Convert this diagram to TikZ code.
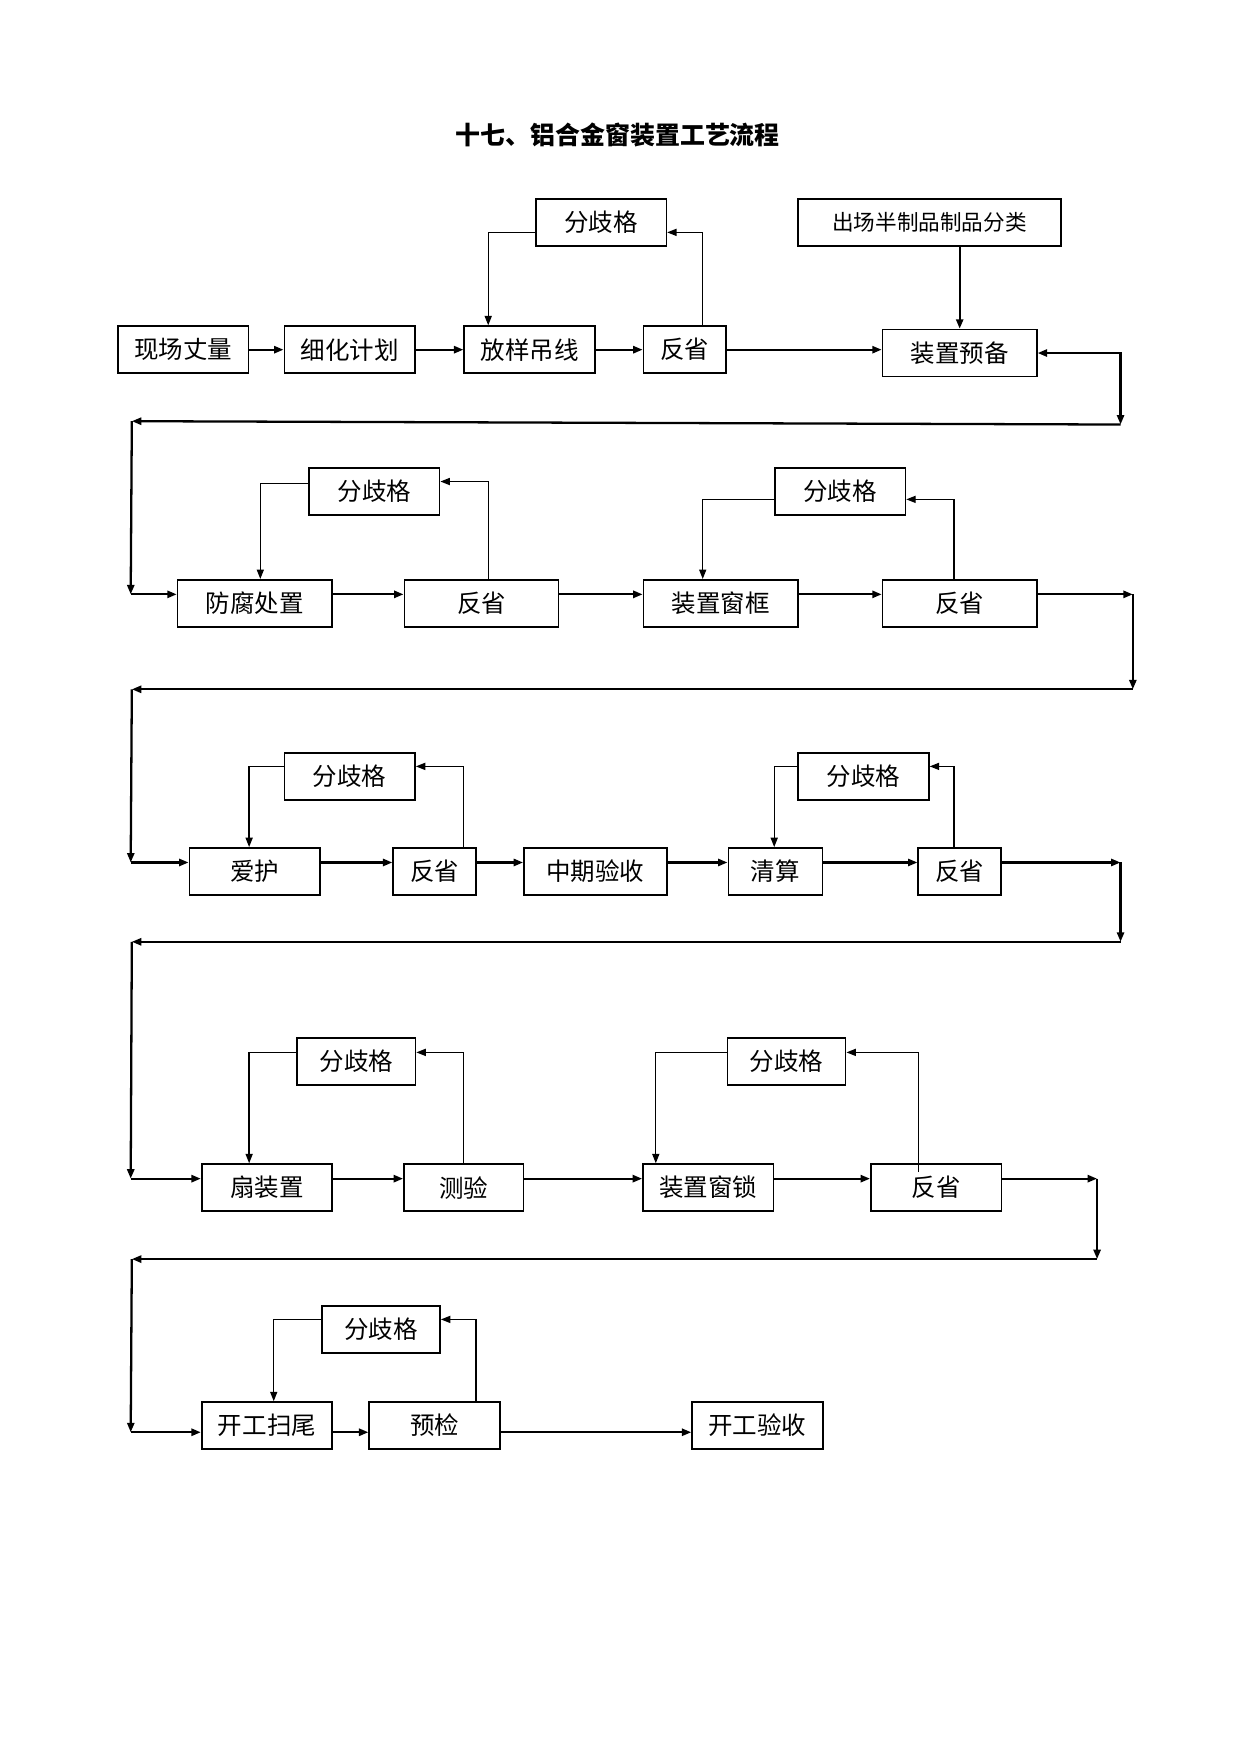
\documentclass[tikz,border=0pt]{standalone}
\usepackage{fontspec}
\newfontfamily\cjk{Noto Sans CJK SC}
\usepackage{tikz}
\usetikzlibrary{calc, positioning, arrows.meta}
\tikzset{
	line width = .8pt,
	>={Triangle[length=1.6mm, width=1.2mm]},
	font = \cjk\fontsize{11.8}{14}\selectfont,
	box/.style={
		draw,
		line width=.8pt,
		minimum width=22.1mm,
		minimum height=7.94mm,
		inner sep=0pt
	},
	edge/.style={
		->,
		line width=1.1pt
	},
	back edge/.style={
		->,
		line width=.65pt
	}
}

\begin{document}
\begin{tikzpicture}[x=0.18902mm, y=-0.18902mm]
		\useasboundingbox (0,0) rectangle (1111,1570);
		\node[font=\cjk\bfseries\fontsize{12}{14}\selectfont] (title) at (553,121) {十七、铝合金窗装置工艺流程};

		% row 1
		\node[box] (xc) at (164,313) {现场丈量};
		\node[box] (xh) at (313,313) {细化计划};
		\node[box] (fy) at (474,313) {放样吊线};
		\node[box, minimum width=14mm] (fx1) at (613,313) {反省};
		\node[box] (fq1) at (538,199) {分歧格};
		\node[box, minimum width=44.4mm, font=\cjk\fontsize{10.4}{12}\selectfont] (cc) at (832,199) {出场半制品制品分类};
		\node[box, minimum width=26.1mm] (zb) at (859,316) {装置预备};

		\draw[edge] (xc) to (xh);
		\draw[edge] (xh) to (fy);
		\draw[edge] (fy) to (fx1);
		\draw[edge] (fx1) to (fx1 -| zb.west);
		\draw[edge] (cc.south -| zb.north) to (zb.north);
		\draw[back edge] ($(fx1.north)+(16,0)$) |- ($(fq1.east)+(0,9)$);
		\draw[back edge] ($(fq1.west)+(0,9)$) -| ($(fy.north)+(-37,0)$);

		\coordinate (r1) at (1003,380);
		\coordinate (l1) at (118,377);
		\coordinate (d1) at (117,532);
		\draw[edge, <->] (zb.east) -| (r1);
		\draw[edge] (r1) to (l1);
		\draw[edge] (l1) to (d1);

		% row 2
		\node[box, minimum width=26.1mm] (ff) at (228,540) {防腐处置};
		\node[box, minimum width=26.1mm] (fx2) at (431,540) {反省};
		\node[box, minimum width=26.1mm] (kk) at (645,540) {装置窗框};
		\node[box, minimum width=26.1mm] (fx3) at (859,540) {反省};
		\node[box] (fq2) at (335,440) {分歧格};
		\node[box] (fq3) at (752,440) {分歧格};

		\coordinate (r2) at (1014,617);
		\coordinate (l2) at (118,617);
		\coordinate (d2) at (117,772);
		\draw[edge] (d1) to (d1 -| ff.west);
		\draw[edge] (ff.east |- d1) to (fx2.west |- d1);
		\draw[edge] (fx2.east |- d1) to (kk.west |- d1);
		\draw[edge] (kk.east |- d1) to (fx3.west |- d1);
		\draw[edge] (fx3.east |- d1) to (r2 |- d1);
		\draw[edge] (r2 |- d1) to (r2);
		\draw[edge] (r2) to (l2);
		\draw[edge] (l2) to (d2);
		\draw[back edge] ($(fx2.north)+(6,0)$) |- ($(fq2.east)+(0,-9)$);
		\draw[back edge] ($(fq2.west)+(0,-7)$) -| ($(ff.north)+(5,0)$);
		\draw[back edge] ($(fx3.north)+(-5,0)$) |- ($(fq3.east)+(0,7)$);
		\draw[back edge] ($(fq3.west)+(0,7)$) -| ($(kk.north)+(-16,0)$);

		% row 3
		\node[box] (ah) at (228,780) {爱护};
		\node[box, minimum width=14mm] (fx4) at (389,780) {反省};
		\node[box, minimum width=24.2mm] (zq) at (533,780) {中期验收};
		\node[box, minimum width=15.9mm] (qs) at (694,780) {清算};
		\node[box, minimum width=14mm] (fx5) at (859,780) {反省};
		\node[box] (fq4) at (313,695) {分歧格};
		\node[box] (fq5) at (773,695) {分歧格};

		\coordinate (r3) at (1003,843);
		\coordinate (l3) at (118,843);
		\coordinate (d3) at (117,1055);
		\draw[edge] (d2) to (d2 -| ah.west);
		\draw[edge] (ah.east |- d2) to (fx4.west |- d2);
		\draw[edge] (fx4.east |- d2) to (zq.west |- d2);
		\draw[edge] (zq.east |- d2) to (qs.west |- d2);
		\draw[edge] (qs.east |- d2) to (fx5.west |- d2);
		\draw[edge] (fx5.east |- d2) to (r3 |- d2);
		\draw[edge] (r3 |- d2) to (r3);
		\draw[edge] (r3) to (l3);
		\draw[edge] (l3) to (d3);
		\draw[back edge] ($(fx4.north)+(26,0)$) |- ($(fq4.east)+(0,-9)$);
		\draw[back edge] ($(fq4.west)+(0,-9)$) -| ($(ah.north)+(-5,0)$);
		\draw[back edge] ($(fx5.north)+(-5,0)$) |- ($(fq5.east)+(0,-9)$);
		\draw[back edge] ($(fq5.west)+(0,-9)$) -| ($(qs.north)+(-1,0)$);

		% row 4
		\node[box] (sz) at (239,1063) {扇装置};
		\node[box, minimum width=20.2mm] (cy) at (415,1063) {测验};
		\node[box] (cs) at (634,1063) {装置窗锁};
		\node[box] (fx6) at (838,1063) {反省};
		\node[box, minimum width=20mm] (fq6) at (319,950) {分歧格};
		\node[box, minimum width=20mm] (fq7) at (704,950) {分歧格};

		\coordinate (r4) at (982,1127);
		\coordinate (l4) at (118,1127);
		\coordinate (d4) at (117,1282);
		\draw[edge] (d3) to (d3 -| sz.west);
		\draw[edge] (sz.east |- d3) to (cy.west |- d3);
		\draw[edge] (cy.east |- d3) to (cs.west |- d3);
		\draw[edge] (cs.east |- d3) to (fx6.west |- d3);
		\draw[edge] (fx6.east |- d3) to (r4 |- d3);
		\draw[edge] (r4 |- d3) to (r4);
		\draw[edge] (r4) to (l4);
		\draw[edge] (l4) to (d4);
		\draw[back edge] (cy.north) |- ($(fq6.east)+(0,-8)$);
		\draw[back edge] ($(fq6.west)+(0,-8)$) -| ($(sz.north)+(-16,0)$);
		\draw[back edge] ($(fx6.north)+(-16,8)$) |- ($(fq7.east)+(0,-8)$);
		\draw[back edge] ($(fq7.west)+(0,-8)$) -| ($(cs.north)+(-47,0)$);

		% row 5
		\node[box] (kw) at (239,1276) {开工扫尾};
		\node[box] (yj) at (389,1276) {预检};
		\node[box] (ky) at (678,1276) {开工验收};
		\node[box, minimum width=20mm] (fq8) at (341,1190) {分歧格};

		\draw[edge] (d4) to (d4 -| kw.west);
		\draw[edge] (kw.east |- d4) to (yj.west |- d4);
		\draw[edge] (yj.east |- d4) to (ky.west |- d4);
		\draw[back edge] ($(yj.north)+(37,0)$) |- ($(fq8.east)+(0,-9)$);
		\draw[back edge] ($(fq8.west)+(0,-9)$) -| ($(kw.north)+(6,0)$);
	\end{tikzpicture}
\end{document}
